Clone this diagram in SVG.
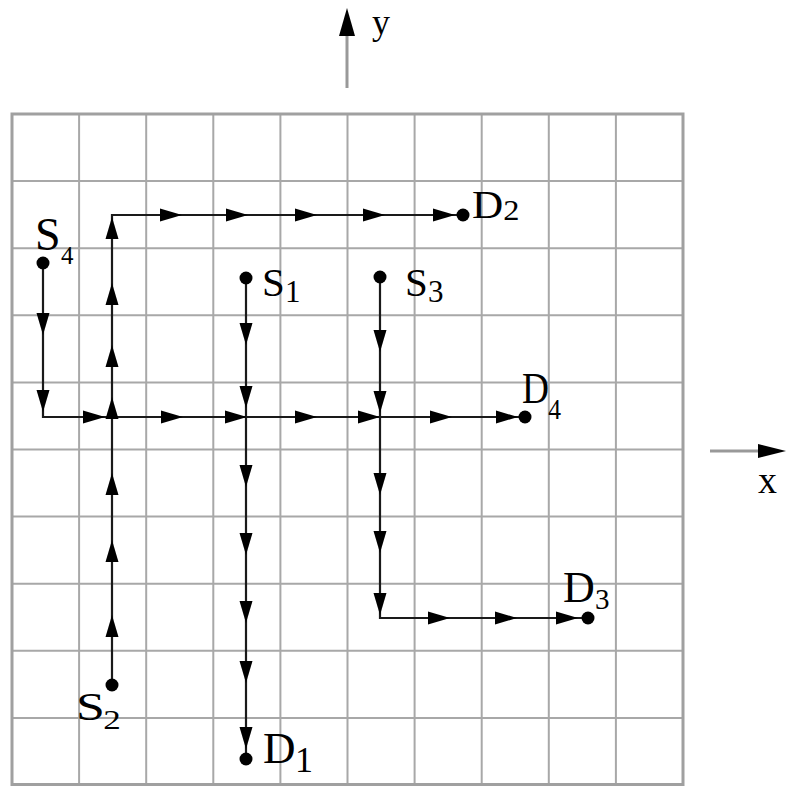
<svg xmlns="http://www.w3.org/2000/svg" xmlns:xlink="http://www.w3.org/1999/xlink" width="786" height="786" viewBox="0 0 786 786">
<style>
.grid{stroke:#a8a8a8;stroke-width:2;fill:none}
.border{stroke:#a0a0a0;stroke-width:3;fill:none}
.route{stroke:#1a1a1a;stroke-width:2.2;fill:none}
.axis{stroke:#999;stroke-width:3;fill:none}
.dot{fill:#000}
.lbl{font-family:"Liberation Serif","Times New Roman",serif;fill:#000}
.ah{fill:#000}
</style>
<defs>
<polygon id="ah" class="ah" points="0,0 -22,-6.5 -22,6.5"/>
</defs>
<rect width="786" height="786" fill="#fff"/>
<g id="grid">
<path class="grid" d="M79.1 114V786M146.2 114V786M213.3 114V786M280.4 114V786M347.5 114V786M414.6 114V786M481.7 114V786M548.8 114V786M615.9 114V786M12 181.1H683M12 248.2H683M12 315.3H683M12 382.4H683M12 449.5H683M12 516.6H683M12 583.7H683M12 650.8H683M12 717.9H683"/>
<path class="border" d="M12 786V114H683V786M12 784.5H683"/>
</g>
<g id="axes">
<path class="axis" d="M347 88V30"/>
<polygon class="ah" points="347,8 339,36 355,36"/>
<text class="lbl" x="372" y="34" font-size="36">y</text>
<path class="axis" d="M710 451H762"/>
<polygon class="ah" points="786,451 758,444 758,458"/>
<text class="lbl" x="758" y="493" font-size="38">x</text>
</g>
<g id="connectors">
<path class="route" d="M112 685V215H463"/>
<path class="route" d="M43 263V417H525"/>
<path class="route" d="M246 278V759"/>
<path class="route" d="M380 277V618H588"/>
<g>
<use href="#ah" transform="translate(112,217) rotate(-90)"/>
<use href="#ah" transform="translate(112,283) rotate(-90)"/>
<use href="#ah" transform="translate(112,345) rotate(-90)"/>
<use href="#ah" transform="translate(112,397) rotate(-90)"/>
<use href="#ah" transform="translate(112,473) rotate(-90)"/>
<use href="#ah" transform="translate(112,540) rotate(-90)"/>
<use href="#ah" transform="translate(112,615) rotate(-90)"/>
<use href="#ah" transform="translate(182,215)"/>
<use href="#ah" transform="translate(248,215)"/>
<use href="#ah" transform="translate(317,215)"/>
<use href="#ah" transform="translate(385,215)"/>
<use href="#ah" transform="translate(455,215)"/>
<use href="#ah" transform="translate(43,335) rotate(90)"/>
<use href="#ah" transform="translate(43,412) rotate(90)"/>
<use href="#ah" transform="translate(105,417)"/>
<use href="#ah" transform="translate(183,417)"/>
<use href="#ah" transform="translate(247,417)"/>
<use href="#ah" transform="translate(317,417)"/>
<use href="#ah" transform="translate(380,417)"/>
<use href="#ah" transform="translate(452,417)"/>
<use href="#ah" transform="translate(518,417)"/>
<use href="#ah" transform="translate(246,345) rotate(90)"/>
<use href="#ah" transform="translate(246,408) rotate(90)"/>
<use href="#ah" transform="translate(246,487) rotate(90)"/>
<use href="#ah" transform="translate(246,555) rotate(90)"/>
<use href="#ah" transform="translate(246,623) rotate(90)"/>
<use href="#ah" transform="translate(246,683) rotate(90)"/>
<use href="#ah" transform="translate(246,749) rotate(90)"/>
<use href="#ah" transform="translate(380,352) rotate(90)"/>
<use href="#ah" transform="translate(380,413) rotate(90)"/>
<use href="#ah" transform="translate(380,495) rotate(90)"/>
<use href="#ah" transform="translate(380,553) rotate(90)"/>
<use href="#ah" transform="translate(380,615) rotate(90)"/>
<use href="#ah" transform="translate(450,618)"/>
<use href="#ah" transform="translate(517,618)"/>
<use href="#ah" transform="translate(578,618)"/>
</g>
</g>
<g id="S4"><circle class="dot" cx="43" cy="263" r="6.5"/><text class="lbl" x="35" y="250" font-size="46">S<tspan x="61" y="264" font-size="25">4</tspan></text></g>
<g id="S1"><circle class="dot" cx="246" cy="278" r="6.5"/><text class="lbl" x="262" y="296" font-size="41">S<tspan x="285" y="302" font-size="31">1</tspan></text></g>
<g id="S3"><circle class="dot" cx="380" cy="277" r="6.5"/><text class="lbl" x="405" y="296" font-size="41">S<tspan x="428" y="302" font-size="31">3</tspan></text></g>
<g id="D2"><circle class="dot" cx="463" cy="215" r="6.5"/><text class="lbl" x="472" y="218" font-size="40" transform="translate(472,0) scale(1.08,1) translate(-472,0)">D<tspan x="501" y="220" font-size="30">2</tspan></text></g>
<g id="D4"><circle class="dot" cx="525" cy="417" r="6.5"/><text class="lbl" x="522" y="403" font-size="44" transform="translate(522,0) scale(0.85,1) translate(-522,0)">D<tspan x="553" y="419" font-size="30">4</tspan></text></g>
<g id="D3"><circle class="dot" cx="588" cy="618" r="6.5"/><text class="lbl" x="563" y="602" font-size="44">D<tspan x="595" y="609" font-size="29">3</tspan></text></g>
<g id="S2"><circle class="dot" cx="112" cy="685" r="6.5"/><text class="lbl" x="76" y="720" font-size="40" transform="translate(76,0) scale(1.3,1) translate(-76,0)">S<tspan x="97" y="729" font-size="27">2</tspan></text></g>
<g id="D1"><circle class="dot" cx="246" cy="759" r="6.5"/><text class="lbl" x="263" y="763" font-size="45">D<tspan x="295" y="772" font-size="36">1</tspan></text></g>
</svg>
